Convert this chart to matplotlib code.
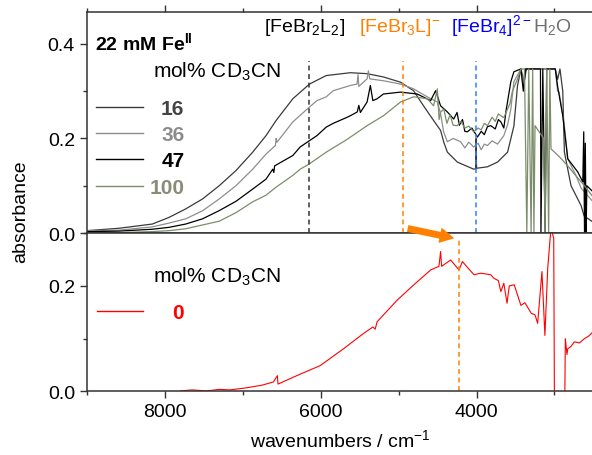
import matplotlib
matplotlib.use("Agg")
import matplotlib.pyplot as plt
from matplotlib.lines import Line2D
from matplotlib.patches import FancyArrowPatch
from matplotlib.ticker import MultipleLocator

plt.rcParams["font.family"] = ["Liberation Sans", "DejaVu Sans"]
plt.rcParams["mathtext.fontset"] = "custom"
plt.rcParams["mathtext.rm"] = "Liberation Sans"
plt.rcParams["mathtext.it"] = "Liberation Sans:italic"
plt.rcParams["mathtext.bf"] = "Liberation Sans:bold"

# -----------------------------
# Spectra: 22 mM FeBr2, mol% CD3CN series
# -----------------------------
wn_16 = [9000, 8588, 8158, 7945, 7730, 7515, 7301, 7086, 6871, 6700, 6571, 6356, 6143,
         5928, 5619, 5404, 5194, 4975, 4808, 4680, 4551, 4461, 4422, 4374, 4246, 4036,
         4010, 4005, 4000, 3860, 3731, 3602, 3521, 3474, 3431, 3390, 3360, 3330, 2990,
         2960, 2930, 2894, 2873, 2788, 2659, 2620, 2505]
abs_16 = [0.005, 0.010, 0.019, 0.033, 0.051, 0.072, 0.100, 0.132, 0.171, 0.206, 0.238,
          0.284, 0.315, 0.333, 0.339, 0.337, 0.330, 0.319, 0.301, 0.269, 0.238, 0.217,
          0.193, 0.171, 0.150, 0.135, 0.136, 0.200, 0.137, 0.140, 0.150, 0.171, 0.226,
          0.312, 0.347, 0.320, 0.347, 0.347, 0.347, 0.325, 0.347, 0.300, 0.171, 0.100,
          0.058, 0.036, 0.023]

wn_36 = [9000, 8588, 8158, 7945, 7730, 7515, 7301, 7086, 6871, 6700, 6580, 6570, 6560,
         6356, 6146, 6047, 5928, 5838, 5619, 5533, 5520, 5510, 5404, 5387, 5370, 5194,
         4975, 4808, 4632, 4503, 4461, 4422, 4374, 4300, 4204, 4150, 4100, 4036, 3980,
         3940, 3900, 3860, 3800, 3731, 3650, 3600, 3560, 3521, 3431, 3400, 3380, 2990,
         2960, 2941, 2878, 2830, 2720, 2659, 2505]
abs_36 = [0.005, 0.006, 0.013, 0.021, 0.030, 0.047, 0.072, 0.100, 0.135, 0.167, 0.185,
          0.200, 0.192, 0.235, 0.266, 0.280, 0.288, 0.301, 0.312, 0.315, 0.335, 0.310,
          0.326, 0.343, 0.326, 0.322, 0.315, 0.305, 0.288, 0.277, 0.252, 0.214, 0.193,
          0.200, 0.193, 0.180, 0.192, 0.182, 0.190, 0.176, 0.188, 0.185, 0.195, 0.188,
          0.206, 0.230, 0.262, 0.320, 0.347, 0.310, 0.347, 0.347, 0.300, 0.298, 0.234,
          0.157, 0.120, 0.095, 0.066]

wn_47 = [9000, 8588, 8158, 7945, 7730, 7515, 7305, 7086, 6871, 6700, 6614, 6600, 6590,
         6356, 6262, 6146, 6047, 5928, 5838, 5670, 5619, 5530, 5510, 5490, 5404, 5362,
         5330, 5275, 5194, 4975, 4761, 4589, 4525, 4461, 4374, 4293, 4250, 4220, 4180,
         4150, 4117, 4060, 3988, 3940, 3900, 3860, 3817, 3760, 3720, 3688, 3650, 3620,
         3600, 3560, 3521, 3431, 3400, 3370, 3180, 3174, 3150, 3120, 3100, 2990, 2960,
         2894, 2830, 2701, 2637, 2625, 2615, 2605, 2595, 2585, 2505]
abs_47 = [0.003, 0.004, 0.008, 0.012, 0.019, 0.030, 0.047, 0.067, 0.093, 0.114, 0.135,
          0.128, 0.142, 0.164, 0.182, 0.195, 0.206, 0.224, 0.232, 0.244, 0.248, 0.256,
          0.270, 0.255, 0.277, 0.312, 0.280, 0.284, 0.294, 0.298, 0.294, 0.280, 0.301,
          0.269, 0.256, 0.241, 0.255, 0.228, 0.240, 0.215, 0.214, 0.222, 0.203, 0.215,
          0.208, 0.225, 0.227, 0.220, 0.240, 0.235, 0.222, 0.260, 0.280, 0.320, 0.341,
          0.347, 0.300, 0.347, 0.347, 0.000, 0.347, 0.000, 0.347, 0.347, 0.310,
          0.248, 0.157, 0.129, 0.108, 0.214, 0.000, 0.190, 0.000, 0.100, 0.087]

wn_100 = [9000, 8588, 8158, 7945, 7730, 7515, 7301, 7086, 6871, 6700, 6571, 6356, 6262,
          6146, 5928, 5670, 5404, 5194, 4975, 4808, 4632, 4551, 4503, 4480, 4461, 4420,
          4380, 4340, 4300, 4246, 4200, 4150, 4100, 4036, 3980, 3940, 3900, 3860, 3800,
          3760, 3720, 3688, 3650, 3602, 3570, 3540, 3474, 3431, 3385, 3355, 3330, 3300,
          3280, 3264, 3250, 3180, 3140, 3120, 3100, 3075, 3060, 3045, 2930, 2830, 2720,
          2616, 2505]
abs_100 = [0.000, 0.001, 0.003, 0.005, 0.009, 0.017, 0.025, 0.043, 0.066, 0.080, 0.097,
           0.122, 0.135, 0.146, 0.171, 0.197, 0.227, 0.248, 0.277, 0.288, 0.284, 0.269,
           0.305, 0.240, 0.256, 0.262, 0.232, 0.250, 0.228, 0.227, 0.236, 0.222, 0.226,
           0.214, 0.222, 0.218, 0.232, 0.227, 0.245, 0.236, 0.252, 0.248, 0.244, 0.262,
           0.275, 0.300, 0.326, 0.347, 0.347, 0.000, 0.347, 0.000, 0.347, 0.000, 0.227,
           0.210, 0.200, 0.000, 0.347, 0.000, 0.347, 0.178, 0.160, 0.142, 0.120, 0.100,
           0.076]

# sample without CD3CN (0 mol%)
wn_0 = [7800, 7650, 7463, 7300, 7163, 6948, 6750, 6606, 6555, 6546, 6305, 6005, 5705,
        5448, 5330, 5300, 5275, 5018, 4804, 4589, 4482, 4461, 4448, 4332, 4225, 4181,
        4100, 4032, 3946, 3860, 3817, 3775, 3720, 3688, 3650, 3609, 3580, 3517, 3431,
        3380, 3298, 3250, 3216, 3161, 3123, 3087, 3045, 3010, 3000, 2870, 2861, 2840,
        2830, 2790, 2745, 2680, 2616, 2560, 2505]
abs_0 = [0.001, 0.003, 0.001, 0.004, 0.003, 0.007, 0.012, 0.018, 0.030, 0.014, 0.030,
         0.049, 0.081, 0.110, 0.122, 0.118, 0.132, 0.173, 0.202, 0.230, 0.237, 0.265,
         0.237, 0.249, 0.230, 0.246, 0.232, 0.221, 0.224, 0.222, 0.221, 0.214, 0.210,
         0.189, 0.205, 0.167, 0.200, 0.202, 0.163, 0.168, 0.148, 0.145, 0.129, 0.227,
         0.106, 0.233, 0.310, 0.290, -0.050, -0.050, 0.100, 0.070, 0.081, 0.085, 0.094,
         0.092, 0.100, 0.105, 0.113]

series_labels = ["16", "36", "47", "100"]
line_colors = ["#3a3a3a", "#8e8e8e", "#000000", "#7b8d6b"]
text_colors = ["#444444", "#8c8c8c", "#000000", "#8a8c7a"]

# band positions (cm-1)
band_wn = [6150, 4946, 4001]
band_colors = ["#333333", "#ff8000", "#2a7fff"]
band_wn_bottom = 4228

# -----------------------------
# Figure
# -----------------------------
fig = plt.figure(figsize=(5.92, 4.56), dpi=100)
ax1 = fig.add_axes([0.1465, 0.4868, 0.856, 0.4853])
ax2 = fig.add_axes([0.1465, 0.1393, 0.856, 0.3475])

spectra = [(wn_16, abs_16), (wn_36, abs_36), (wn_47, abs_47), (wn_100, abs_100)]
for (x, y), c in zip(spectra, line_colors):
    ax1.plot(x, y, color=c, lw=0.9)
ax2.plot(wn_0, abs_0, color="#ff0000", lw=0.8)

for wn, c in zip(band_wn, band_colors):
    ax1.vlines(wn, 0, 0.364, colors=c, linestyles=(0, (3.2, 2.4)), lw=1.1)
ax2.vlines(band_wn_bottom, 0, 0.29, colors="#ff8000", linestyles=(0, (3.2, 2.4)), lw=1.1)

for ax in (ax1, ax2):
    ax.set_xlim(9000, 2500)
    ax.xaxis.set_major_locator(MultipleLocator(2000))
    ax.xaxis.set_minor_locator(MultipleLocator(1000))
    ax.yaxis.set_major_locator(MultipleLocator(0.2))
    ax.yaxis.set_minor_locator(MultipleLocator(0.1))
    ax.tick_params(which="both", direction="out", labelsize=14, width=1, color="#333333")
    ax.tick_params(which="major", length=5)
    ax.tick_params(which="minor", length=3)
    for s in ax.spines.values():
        s.set_color("#333333")
        s.set_linewidth(1.1)
    ax.spines["right"].set_visible(False)
    ax.yaxis.set_major_formatter(matplotlib.ticker.FormatStrFormatter("%.1f"))

ax1.set_ylim(0, 0.468)
ax2.set_ylim(0, 0.3)
ax1.tick_params(axis="x", which="both", bottom=False, labelbottom=False, top=True)
ax2.set_yticks([0.0, 0.2])

# legend blocks
ax1.text(0.0165, 0.832, r"22 mM Fe$^{\mathbf{II}}$", transform=ax1.transAxes,
         fontsize=14, fontweight="bold", va="baseline")
ax1.text(0.131, 0.705, r"mol% CD$_3$CN", transform=ax1.transAxes, fontsize=15, va="baseline")
key_y = [0.571, 0.452, 0.334, 0.214]
for ky, lab, lc, tc in zip(key_y, series_labels, line_colors, text_colors):
    ax1.add_line(Line2D([0.018, 0.112], [ky, ky], transform=ax1.transAxes, color=lc, lw=1.0))
    ax1.text(0.1926, ky - 0.033, lab, transform=ax1.transAxes, fontsize=15,
             fontweight="bold", color=tc, ha="right", va="baseline")

ax2.text(0.1316, 0.691, r"mol% CD$_3$CN", transform=ax2.transAxes, fontsize=15, va="baseline")
ax2.add_line(Line2D([0.0204, 0.112], [0.51, 0.51], transform=ax2.transAxes, color="#ff0000", lw=1.0))
ax2.text(0.1906, 0.464, "0", transform=ax2.transAxes, fontsize=15, fontweight="bold",
         color="#ff0000", ha="right", va="baseline")

# species labels
ax1.text(0.349, 0.914, r"[FeBr$_2$L$_2$]", transform=ax1.transAxes, fontsize=14,
         color="black", va="baseline")
ax1.text(0.537, 0.914, r"[FeBr$_3$L]$^{-}$", transform=ax1.transAxes, fontsize=14,
         color="#ff8000", va="baseline")
ax1.text(0.719, 0.914, r"[FeBr$_4$]$^{2-}$", transform=ax1.transAxes, fontsize=14,
         color="#0000ff", va="baseline")
ax1.text(0.881, 0.914, r"H$_2$O", transform=ax1.transAxes, fontsize=14,
         color="#707070", va="baseline")

# shift arrow across the two panels
arrow = FancyArrowPatch((0.684, 0.498), (0.772, 0.474), transform=fig.transFigure,
                        arrowstyle="simple,head_length=0.7,head_width=0.75,tail_width=0.33",
                        mutation_scale=15, color="#ff8000", lw=0)
fig.add_artist(arrow)

fig.text(0.034, 0.535, "absorbance", rotation=90, fontsize=14, ha="center", va="center")
ax2.set_xlabel(r"wavenumbers / cm$^{-1}$", fontsize=14, labelpad=6)

fig.savefig("out.png", dpi=100)
